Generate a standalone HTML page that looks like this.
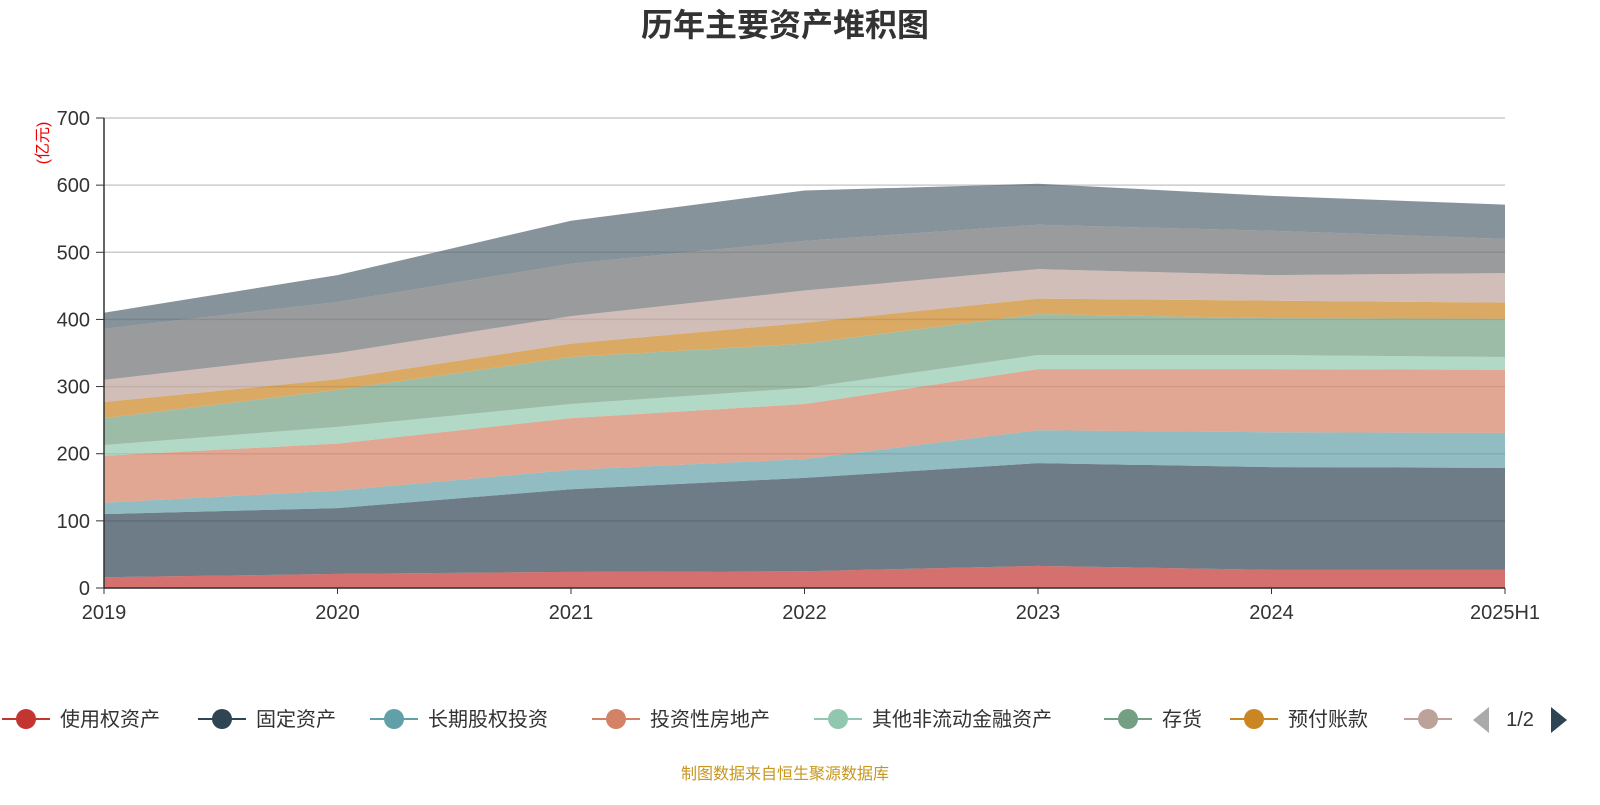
<!DOCTYPE html>
<html><head><meta charset="utf-8"><style>
body{margin:0;background:#fff;width:1600px;height:800px;overflow:hidden;font-family:"Liberation Sans","Noto Sans CJK SC",sans-serif}
</style></head><body>
<svg id="c" width="1600" height="800" xmlns="http://www.w3.org/2000/svg">
<text x="785" y="36" text-anchor="middle" font-size="32" font-weight="bold" fill="#333" font-family="Liberation Sans,Noto Sans CJK SC,sans-serif">历年主要资产堆积图</text>
<text transform="translate(48,143) rotate(-90)" text-anchor="middle" font-size="16" fill="#e00" font-family="Liberation Sans,Noto Sans CJK SC,sans-serif">(亿元)</text>
<g id="grid"></g><g id="areas"></g><g id="axes"></g><g id="legend"></g>
<text x="785" y="779" text-anchor="middle" font-size="16" fill="#c8961e" font-family="Liberation Sans,Noto Sans CJK SC,sans-serif">制图数据来自恒生聚源数据库</text>
</svg>
<script>
const categories=["2019","2020","2021","2022","2023","2024","2025H1"];
const seriesNames=["使用权资产","固定资产","长期股权投资","投资性房地产","其他非流动金融资产","存货","预付账款","其他1","其他2","其他3"];
const s1=[16,21,24,25,33,27,27];
const s2=[94,98,123,139,153,153,152];
const s3=[17,26,29,28,49,52,52];
const s4=[70,70,77,82,91,94,94];
const s5=[16,25,21,24,21,21,19];
const s6=[40,55,70,66,61,55,57];
const s7=[24,16,20,31,23,26,24];
const s8=[33,39,41,48,44,38,44];
const s9=[76,76,78,74,66,66,51];
const s10=[24,40,64,75,61,52,51];
const yTicks=[0,100,200,300,400,500,600,700];
const series=[s1,s2,s3,s4,s5,s6,s7,s8,s9,s10];
const colors=["#c23531","#2f4554","#61a0a8","#d48265","#91c7ae","#749f83","#ca8622","#bda29a","#6e7074","#546570"];
const NS="http://www.w3.org/2000/svg";
const X0=104,X1=1505,Y0=588,Y1=118;
const xs=i=>X0+(X1-X0)*i/(categories.length-1);
const ys=v=>Y0-(Y0-Y1)*v/700;
function mk(t,a,p){const e=document.createElementNS(NS,t);for(const k in a)e.setAttribute(k,a[k]);p.appendChild(e);return e;}
const F="Liberation Sans,Noto Sans CJK SC,sans-serif";
const grid=document.getElementById('grid'),axes=document.getElementById('axes'),areas=document.getElementById('areas'),leg=document.getElementById('legend');
yTicks.forEach(t=>{
 const l=mk('line',{x1:X0,x2:X1,y1:ys(t),y2:ys(t),stroke:'#ccc','stroke-width':1.5},grid);
 
 
 const tk=mk('line',{x1:X0-8,x2:X0,y1:ys(t),y2:ys(t),stroke:'#333'},axes);
 
 
 const tx=mk('text',{x:X0-14,y:ys(t)+7,'text-anchor':'end','font-size':20,fill:'#333','font-family':F},axes);
 tx.textContent=t;
 
 
});
let cum=categories.map(()=>0);
series.forEach((s,k)=>{
 const lo=cum.slice();cum=cum.map((c,i)=>c+s[i]);
 let d='M'+categories.map((_,i)=>xs(i)+','+ys(cum[i])).join('L');
 for(let i=categories.length-1;i>=0;i--)d+='L'+xs(i)+','+ys(lo[i]);
 const p=mk('path',{d:d+'Z',fill:colors[k],'fill-opacity':0.7},areas);
 
 
});
const ya=mk('line',{x1:X0,x2:X0,y1:Y1,y2:Y0,stroke:'#333','stroke-width':1.5},axes);


const xa=mk('line',{x1:X0,x2:X1,y1:Y0,y2:Y0,stroke:'#333','stroke-width':1.5},axes);


categories.forEach((c,i)=>{
 const tk=mk('line',{x1:xs(i),x2:xs(i),y1:Y0,y2:Y0+6,stroke:'#333'},axes);
 
 
 const t=mk('text',{x:xs(i),y:619,'text-anchor':'middle','font-size':20,fill:'#333','font-family':F},axes);
 t.textContent=c;
 
 
});
const legX=[2,198,370,592,814,1104,1230,1404];
legX.forEach((x,k)=>{
 const g=mk('g',{},leg);
 
 
 mk('line',{x1:x,x2:x+48,y1:719,y2:719,stroke:colors[k],'stroke-width':2},g);
 mk('circle',{cx:x+24,cy:719,r:10,fill:colors[k]},g);
 if(k<7){const t=mk('text',{x:x+58,y:726,'font-size':20,fill:'#333','font-family':F},g);t.textContent=seriesNames[k];}
});
const pv=mk('path',{d:'M1489,707L1489,733L1473,720Z',fill:'#aaa'},leg);


const pt=mk('text',{x:1520,y:726,'text-anchor':'middle','font-size':20,fill:'#333','font-family':F},leg);
pt.textContent='1/2';


const nx=mk('path',{d:'M1551,707L1551,733L1567,720Z',fill:'#2f4554'},leg);


</script>
</body></html>
